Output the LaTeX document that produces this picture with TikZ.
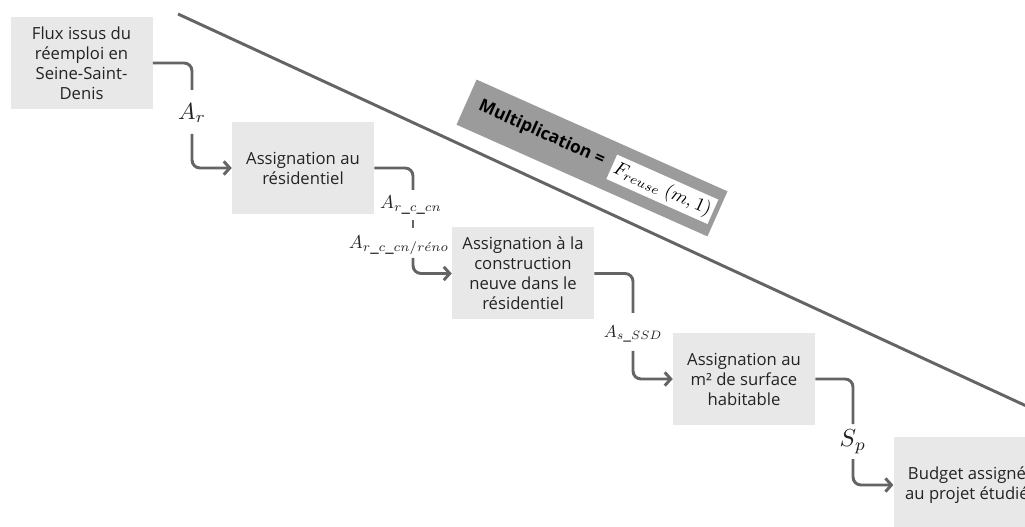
\documentclass[tikz,border=0pt]{standalone}
\usepackage{fontspec}
\setmainfont{Open Sans}
\usetikzlibrary{arrows.meta}
\definecolor{boxgray}{RGB}{232,232,232}
\definecolor{linec}{RGB}{100,100,100}
\definecolor{multgray}{RGB}{155,155,155}
\definecolor{txt}{RGB}{35,35,35}
\tikzset{
  stepbox/.style={fill=boxgray, minimum width=106.5pt, minimum height=69pt, align=center,
    font=\fontsize{12.5}{15}\selectfont, text=txt, inner sep=0pt},
  conn/.style={draw=linec, line width=2.2pt, rounded corners=6pt},
  arr/.style={-{Straight Barb[length=4.5pt,width=10pt]}},
  lab/.style={inner sep=0pt, text=txt, font=\fontsize{10}{12}\selectfont},
  diag/.style={draw=linec, line width=2.2pt}
}
\begin{document}
\begin{tikzpicture}[x=0.75pt,y=-0.75pt]
\useasboundingbox (0,0) rectangle (1025,527);
\clip (0,0) rectangle (1025,527);

% diagonal separator
\coordinate (dgA) at (178,14);
\coordinate (dgB) at (1045,414.6);
\draw[diag] (dgA) -- (dgB);

% boxes
\node[stepbox] (b1) at (81.5,63) {Flux issus du\\réemploi en\\Seine-Saint-\\Denis};
\node[stepbox] (b2) at (303,168) {Assignation au\\résidentiel};
\node[stepbox] (b3) at (523,273.5) {Assignation à la\\construction\\neuve dans le\\résidentiel};
\node[stepbox] (b4) at (744,379) {Assignation au\\m² de surface\\habitable};
\node[stepbox, minimum width=110pt, minimum height=72pt] (b5) at (967,485) {Budget assigné\\au projet étudié};

% connector 1
\coordinate (c1u) at (192,90);
\coordinate (c1d) at (192,134);
\draw[conn] (b1.east) -| (c1u);
\node[lab] (l1) at (192,113) {\scalebox{1.75}{$A_r$}};
\draw[conn,arr] (c1d) |- (b2.west);

% connector 2
\coordinate (c2u) at (413,190);
\coordinate (c2a) at (413,220);
\coordinate (c2b) at (413,228);
\coordinate (c2d) at (413,258);
\draw[conn] (b2.east) -| (c2u);
\node[lab] (l2) at (411,205) {\scalebox{1.4}{$A_{r\_c\_cn}$}};
\draw[conn] (c2a) -- (c2b);
\node[lab] (l3) at (399,245) {\scalebox{1.4}{$A_{r\_c\_cn/r\acute{e}no}$}};
\draw[conn,arr] (c2d) |- (b3.west);

% connector 3
\coordinate (c3u) at (633,313);
\coordinate (c3d) at (633,351);
\draw[conn] (b3.east) -| (c3u);
\node[lab] (l4) at (633,334) {\scalebox{1.3}{$A_{s\_SSD}$}};
\draw[conn,arr] (c3d) |- (b4.west);

% connector 4
\coordinate (c4u) at (853,424);
\coordinate (c4d) at (853,459);
\draw[conn] (b4.east) -| (c4u);
\node[lab] (l5) at (853,442) {\scalebox{1.85}{$S_p$}};
\draw[conn,arr] (c4d) |- (b5.west);

% rotated multiplication label
\begin{scope}[shift={(592,158)}, rotate=-24, transform shape]
  \node[fill=multgray, minimum width=206pt, minimum height=37pt, inner sep=0pt] (mult) at (0,0) {};
  \node[inner sep=0pt, text=black, font=\bfseries\fontsize{13}{15}\selectfont] (multtxt) at (-56,-2) {Multiplication =};
  \node[fill=white, minimum width=83pt, minimum height=20pt, inner sep=0pt,
        font=\fontsize{10}{12}\selectfont] (freuse) at (77,0) {\scalebox{1.42}{$F_{reuse}\ (m,1)$}};
\end{scope}
\end{tikzpicture}
\end{document}
